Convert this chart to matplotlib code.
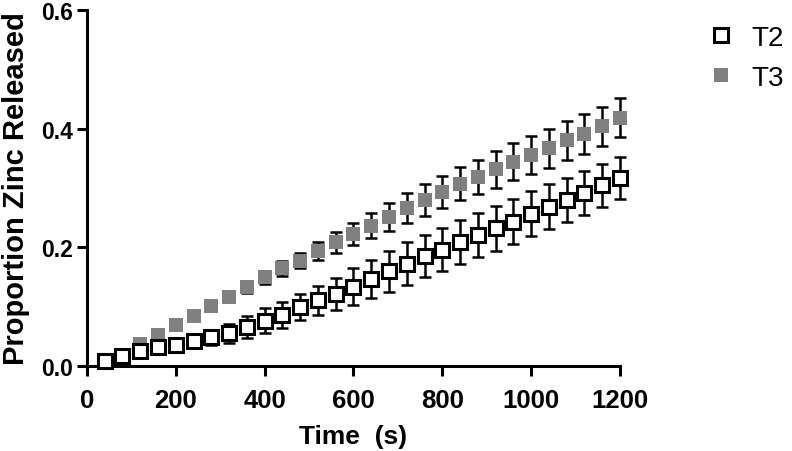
import numpy as np
import matplotlib.pyplot as plt

plt.rcParams['font.family'] = ['Liberation Sans', 'DejaVu Sans']

# time points (s)
time_s = [40, 80, 120, 160, 200, 240, 280, 320, 360, 400,
          440, 480, 520, 560, 600, 640, 680, 720, 760, 800,
          840, 880, 920, 960, 1000, 1040, 1080, 1120, 1160, 1200]

t2_mean = [0.008, 0.016, 0.024, 0.031, 0.035, 0.042, 0.048, 0.055, 0.065, 0.076,
           0.086, 0.099, 0.110, 0.121, 0.133, 0.146, 0.159, 0.172, 0.185, 0.196,
           0.208, 0.220, 0.232, 0.243, 0.256, 0.268, 0.280, 0.292, 0.304, 0.317]
t2_err = [0.004, 0.005, 0.006, 0.007, 0.008, 0.010, 0.013, 0.016, 0.019, 0.021,
          0.022, 0.022, 0.025, 0.027, 0.031, 0.032, 0.035, 0.036, 0.036, 0.037,
          0.037, 0.037, 0.038, 0.038, 0.038, 0.038, 0.037, 0.037, 0.036, 0.035]

t3_mean = [0.008, 0.018, 0.037, 0.052, 0.068, 0.083, 0.100, 0.116, 0.132, 0.149,
           0.164, 0.177, 0.193, 0.208, 0.222, 0.236, 0.251, 0.266, 0.279, 0.293,
           0.307, 0.318, 0.331, 0.344, 0.356, 0.367, 0.380, 0.391, 0.404, 0.418]
t3_err = [0.003, 0.004, 0.005, 0.006, 0.006, 0.007, 0.008, 0.009, 0.010, 0.011,
          0.012, 0.013, 0.015, 0.018, 0.019, 0.021, 0.023, 0.025, 0.027, 0.027,
          0.028, 0.029, 0.031, 0.031, 0.032, 0.033, 0.033, 0.034, 0.033, 0.033]

x_ticks = [0, 200, 400, 600, 800, 1000, 1200]
y_ticks = [0.0, 0.2, 0.4, 0.6]

fig = plt.figure(figsize=(7.92, 4.52), dpi=100)
ax = fig.add_axes([0.1098, 0.1887, 0.673, 0.787])

gray = '#808080'
# T3 behind, T2 on top
ax.errorbar(time_s, t3_mean, yerr=t3_err, fmt='none', ecolor='black',
            elinewidth=1.8, capsize=4, capthick=1.8, zorder=2, clip_on=False)
ax.plot(time_s, t3_mean, 's', color=gray, markersize=10.5, markeredgewidth=0,
        zorder=3, clip_on=False, label='T3')
ax.errorbar(time_s, t2_mean, yerr=t2_err, fmt='none', ecolor='black',
            elinewidth=1.8, capsize=4, capthick=1.8, zorder=4, clip_on=False)
ax.plot(time_s, t2_mean, 's', markerfacecolor='white', markeredgecolor='black',
        markersize=9.5, markeredgewidth=2.2, zorder=5, clip_on=False, label='T2')

ax.set_xlim(0, 1200)
ax.set_ylim(0, 0.6)
ax.set_xticks(x_ticks)
ax.set_yticks(y_ticks)
ax.set_yticklabels(['%.1f' % v for v in y_ticks])

for side in ['top', 'right']:
    ax.spines[side].set_visible(False)
for side in ['left', 'bottom']:
    ax.spines[side].set_linewidth(2.2)
ax.tick_params(width=2.2, length=7)
ax.tick_params(axis='x', labelsize=18.5, pad=9)
ax.tick_params(axis='y', labelsize=16.5, pad=3)
for lbl in ax.get_xticklabels() + ax.get_yticklabels():
    lbl.set_fontweight('bold')

ax.set_xlabel('Time  (s)', fontsize=19, fontweight='bold', labelpad=9)
ax.set_ylabel('Proportion Zinc Released', fontsize=21, fontweight='bold', labelpad=8)

handles, labels = ax.get_legend_handles_labels()
fig.legend(handles[::-1], labels[::-1], loc='upper left', bbox_to_anchor=(0.8927, 0.943),
           frameon=False, fontsize=20, handletextpad=0.6, labelspacing=0.5,
           handlelength=1.0, borderpad=0, borderaxespad=0)

plt.savefig('out.png', dpi=100)
